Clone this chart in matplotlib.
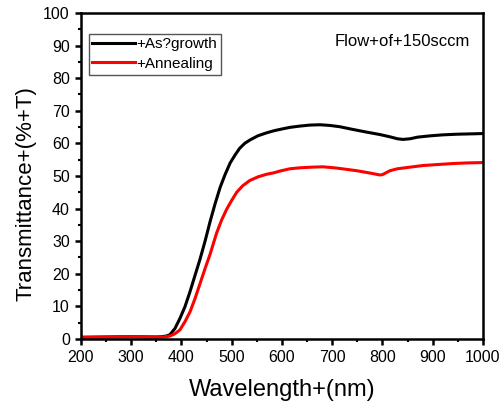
import matplotlib
matplotlib.use('Agg')
import matplotlib.pyplot as plt
from matplotlib.ticker import MultipleLocator

plt.rcParams['font.family'] = ['Liberation Sans', 'DejaVu Sans']

# as-grown film
wl_grown = [200, 250, 300, 350, 360, 370, 377, 387, 397, 407, 417, 427, 437, 447, 457,
            467, 477, 487, 497, 507, 516, 526, 536, 552, 569, 585, 600, 616, 636, 656,
            676, 695, 715, 740, 770, 795, 815, 830, 841, 855, 870, 895, 920, 948, 975, 1000]
t_grown = [0.5, 0.6, 0.7, 0.6, 0.7, 0.9, 1.3, 3.2, 6.3, 9.9, 14.5, 19.5, 24.5, 30, 36,
           41.5, 46.5, 50.5, 54, 56.5, 58.5, 60, 61, 62.3, 63.2, 63.9, 64.4, 64.9, 65.3, 65.6,
           65.7, 65.5, 65.1, 64.3, 63.4, 62.7, 62, 61.4, 61.2, 61.4, 61.9, 62.3, 62.6, 62.8, 62.9, 63.0]

# annealed film
wl_anneal = [200, 250, 300, 350, 360, 370, 377, 387, 397, 407, 417, 427, 437, 447, 457,
             470, 480, 490, 500, 510, 522, 536, 552, 569, 585, 596, 616, 636, 660, 682,
             710, 749, 775, 795, 800, 815, 830, 850, 881, 910, 940, 970, 1000]
t_anneal = [0.5, 0.6, 0.7, 0.6, 0.6, 0.7, 0.9, 1.6, 2.8, 5.3, 8.3, 12.4, 17, 21.6, 26,
            32.5, 36.5, 39.8, 42.5, 45, 47, 48.6, 49.7, 50.5, 51, 51.5, 52.2, 52.5, 52.7, 52.8,
            52.4, 51.6, 50.9, 50.3, 50.4, 51.6, 52.2, 52.6, 53.2, 53.5, 53.8, 54.0, 54.1]

fig = plt.figure(figsize=(5.03, 4.04), dpi=100)
ax = fig.add_axes([0.161, 0.161, 0.799, 0.807])

ax.plot(wl_grown, t_grown, color='black', lw=2.2, label='+As?growth')
ax.plot(wl_anneal, t_anneal, color='red', lw=2.2, label='+Annealing')

ax.set_xlim(200, 1000)
ax.set_ylim(0, 100)
ax.xaxis.set_major_locator(MultipleLocator(100))
ax.xaxis.set_minor_locator(MultipleLocator(50))
ax.yaxis.set_major_locator(MultipleLocator(10))
ax.yaxis.set_minor_locator(MultipleLocator(5))
ax.tick_params(which='major', direction='out', length=4.5, width=1.8, labelsize=11.5)
ax.tick_params(which='minor', direction='out', length=2.5, width=1.5)
for s in ax.spines.values():
    s.set_linewidth(1.8)

ax.set_xlabel('Wavelength+(nm)', fontsize=17, labelpad=10)
ax.set_ylabel('Transmittance+(%+T)', fontsize=16)
ax.yaxis.set_label_coords(-0.11, 0.445)

ax.text(0.63, 0.90, 'Flow+of+150sccm', transform=ax.transAxes, fontsize=12)

leg = ax.legend(loc='upper left', bbox_to_anchor=(0.0, 0.96), fontsize=11,
                fancybox=False, edgecolor='#555555', handlelength=2.8,
                handletextpad=0.1, borderpad=0.25, labelspacing=0.35, framealpha=1)
leg.get_frame().set_linewidth(1.0)

plt.savefig('out.png', dpi=100)
plt.close()
